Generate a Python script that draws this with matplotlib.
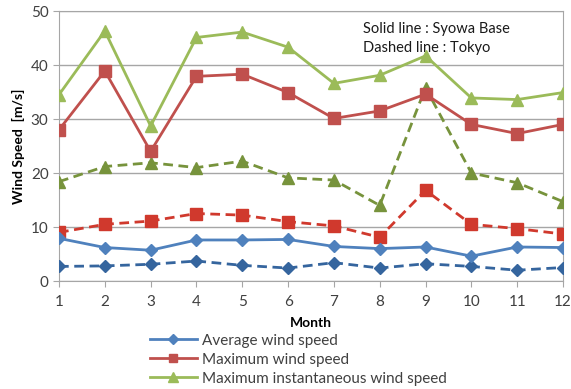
import matplotlib
matplotlib.use("Agg")
import matplotlib.pyplot as plt
from matplotlib.lines import Line2D

months = list(range(1, 13))
syowa_avg = [7.9, 6.2, 5.7, 7.6, 7.6, 7.7, 6.4, 6.0, 6.3, 4.6, 6.3, 6.2]
syowa_max = [28.0, 38.9, 24.0, 37.9, 38.3, 34.9, 30.1, 31.5, 34.6, 29.0, 27.3, 29.0]
syowa_inst = [34.5, 46.3, 28.7, 45.1, 46.1, 43.3, 36.6, 38.1, 41.7, 33.9, 33.6, 34.9]
tokyo_avg = [2.7, 2.8, 3.1, 3.7, 2.9, 2.4, 3.4, 2.4, 3.2, 2.7, 2.0, 2.5]
tokyo_max = [9.0, 10.5, 11.1, 12.5, 12.2, 11.0, 10.2, 8.1, 16.8, 10.5, 9.7, 8.7]
tokyo_inst = [18.4, 21.2, 21.9, 21.0, 22.2, 19.1, 18.7, 14.0, 35.8, 20.0, 18.2, 14.7]
legend_labels = ["Average wind speed", "Maximum wind speed", "Maximum instantaneous wind speed"]

plt.rcParams['font.family'] = ['Lato', 'DejaVu Sans']

fig = plt.figure(figsize=(5.71, 3.89), dpi=100)
ax = fig.add_axes([0.1033, 0.2776, 0.8827, 0.6941])

c_blue, c_red, c_green = '#4F81BD', '#C0504D', '#9BBB59'
d_blue, d_red, d_green = '#35659E', '#D0392D', '#77933C'
lw = 2.0

ax.plot(months, syowa_avg, color=c_blue, lw=lw, marker='D', ms=6.5, zorder=5)
ax.plot(months, syowa_max, color=c_red, lw=lw, marker='s', ms=8, zorder=5)
ax.plot(months, syowa_inst, color=c_green, lw=lw, marker='^', ms=9, zorder=5)
ax.plot(months, tokyo_avg, color=d_blue, lw=lw, ls=(0, (3.5, 2)), marker='D', ms=6.5, zorder=4)
ax.plot(months, tokyo_max, color=d_red, lw=lw, ls=(0, (3.5, 2)), marker='s', ms=8, zorder=4)
ax.plot(months, tokyo_inst, color=d_green, lw=lw, ls=(0, (3.5, 2)), marker='^', ms=9, zorder=4)

ax.set_xlim(1, 12)
ax.set_ylim(0, 50)
ax.set_xticks(months)
ax.set_yticks(range(0, 51, 10))
ax.yaxis.grid(True, color='#A6A6A6', lw=1)
ax.set_axisbelow(True)
for s in ax.spines.values():
    s.set_color('#A6A6A6')
ax.tick_params(colors='#A6A6A6', labelcolor='#404040', labelsize=11, length=4)
ax.tick_params(axis='x', pad=6)

ax.set_xlabel('Month', fontsize=10, fontweight='bold', labelpad=6)
ax.set_ylabel('Wind Speed  [m/s]', fontsize=10, fontweight='bold', labelpad=4)

ax.text(0.603, 0.96, 'Solid line : Syowa Base\nDashed line : Tokyo', transform=ax.transAxes,
        fontsize=10.5, va='top', ha='left', linespacing=1.45, color='#1a1a1a')

handles = [Line2D([], [], color=c_blue, lw=lw, marker='D', ms=5),
           Line2D([], [], color=c_red, lw=lw, marker='s', ms=6),
           Line2D([], [], color=c_green, lw=lw, marker='^', ms=7)]
fig.legend(handles, legend_labels, loc='upper left', bbox_to_anchor=(0.262, 0.142),
           frameon=False, fontsize=11, handlelength=3.1, handletextpad=0.3,
           labelspacing=0.32, borderaxespad=0, borderpad=0, labelcolor='#404040')

fig.savefig('out.png', dpi=100)
